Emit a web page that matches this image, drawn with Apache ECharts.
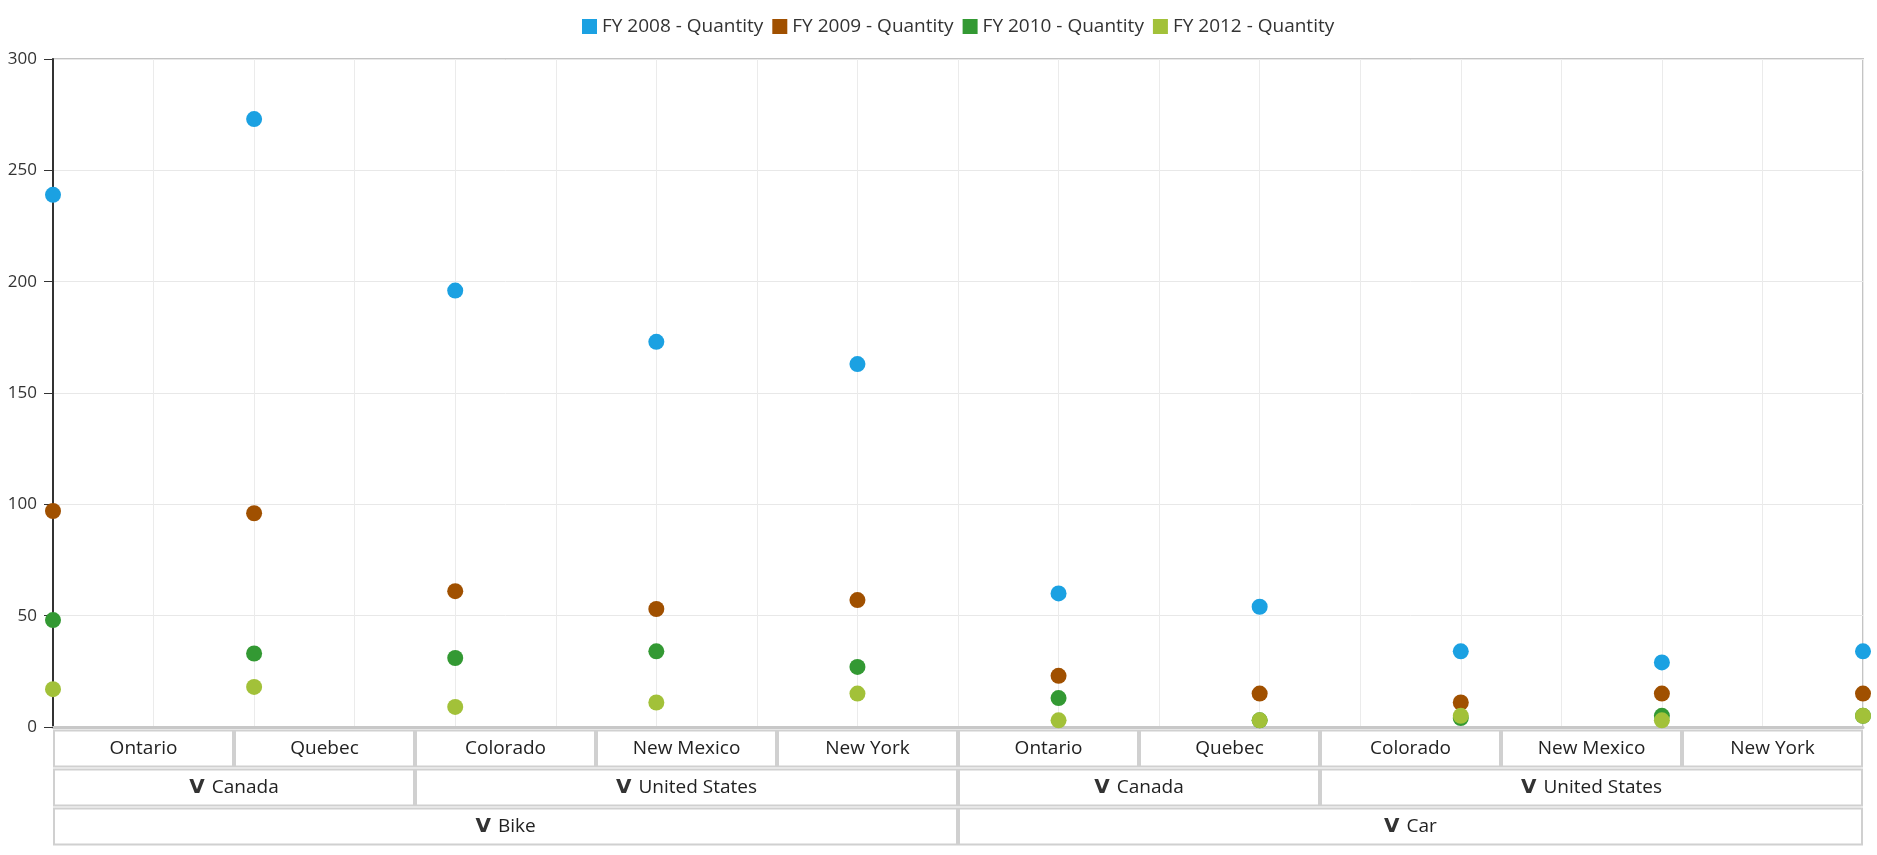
<!DOCTYPE html>
<html lang="en">
<head>
    <meta charset="UTF-8">
    <title>Quantity by Region</title>
    <script type="text/javascript" src="https://cdn.jsdelivr.net/npm/echarts@6/dist/echarts.min.js"></script>
    <style>
        html, body {
            margin: 0;
            padding: 0;
            background: #fff;
        }
        #main {
            width: 1877px;
            height: 855px;
        }
    </style>
</head>
<body>
<div id="main"></div>
<script>
    // x categories (state level), then the group rows under them
    var states = ['Ontario', 'Quebec', 'Colorado', 'New Mexico', 'New York',
        'Ontario', 'Quebec', 'Colorado', 'New Mexico', 'New York'];
    var countries = ['Canada', 'United States', 'Canada', 'United States'];
    var countrySpans = [2, 3, 2, 3];
    var products = ['Bike', 'Car'];
    var productSpans = [5, 5];

    var seriesNames = ['FY 2008 - Quantity', 'FY 2009 - Quantity', 'FY 2010 - Quantity', 'FY 2012 - Quantity'];
    var fy2008 = [239, 273, 196, 173, 163, 60, 54, 34, 29, 34];
    var fy2009 = [97, 96, 61, 53, 57, 23, 15, 11, 15, 15];
    var fy2010 = [48, 33, 31, 34, 27, 13, 3, 4, 5, 5];
    var fy2012 = [17, 18, 9, 11, 15, 3, 3, 5, 3, 5];

    var yTicks = [0, 50, 100, 150, 200, 250, 300];

    var colors = ['#1ba1e2', '#a05000', '#339933', '#a2c139'];
    var font = '"Open Sans", "Noto Sans", sans-serif';

    var chartDom = document.getElementById('main');
    var myChart = echarts.init(chartDom);

    // header cells: [start, row, span], with the text kept alongside
    var cells = [];
    var cellText = [];
    function addRow(names, spans, row, chevron) {
        var start = 0;
        names.forEach(function (n, i) {
            cells.push([start, row, spans[i]]);
            cellText.push(chevron ? '{v|V}{t|' + n + '}' : '{t|' + n + '}');
            start += spans[i];
        });
    }
    addRow(states, states.map(function () { return 1; }), 0, false);
    addRow(countries, countrySpans, 1, true);
    addRow(products, productSpans, 2, true);

    var halfSteps = [];
    for (var h = 0; h < states.length * 2 - 1; h++) halfSteps.push('');

    function renderCell(params, api) {
        var start = api.value(0), row = api.value(1), span = api.value(2);
        var p0 = api.coord([start, row]);
        var p1 = api.coord([start + span, row]);
        var bandH = api.size([0, 1])[1];
        return {
            type: 'group',
            children: [{
                type: 'rect',
                shape: {x: p0[0] + 1, y: p0[1] - bandH / 2 + 1.5, width: p1[0] - p0[0] - 2, height: bandH - 3},
                style: {fill: '#fff', stroke: '#d0d0d0', lineWidth: 2}
            }, {
                type: 'text',
                style: {
                    text: cellText[params.dataIndex],
                    x: (p0[0] + p1[0]) / 2,
                    y: p0[1],
                    align: 'center',
                    verticalAlign: 'middle',
                    fill: '#222',
                    rich: {
                        v: {fontFamily: 'DejaVu Sans', fontWeight: 'bold', fontSize: 20, fill: '#333', padding: [0, 7, 0, 0]},
                        t: {fontFamily: font, fontSize: 19, fill: '#222'}
                    }
                }
            }]
        };
    }

    var allValues = [fy2008, fy2009, fy2010, fy2012];

    var series = allValues.map(function (vals, i) {
        return {
            name: seriesNames[i],
            type: 'scatter',
            xAxisIndex: 0,
            yAxisIndex: 0,
            symbol: 'circle',
            symbolSize: 16,
            clip: true,
            itemStyle: {opacity: 1},
            data: vals
        };
    });
    series.push({
        type: 'custom',
        xAxisIndex: 2,
        yAxisIndex: 1,
        clip: false,
        silent: true,
        renderItem: renderCell,
        encode: {x: 0, y: 1},
        data: cells
    });

    var option = {
        backgroundColor: '#fff',
        color: colors,
        legend: {
            top: 12,
            left: 577,
            icon: 'rect',
            itemWidth: 15,
            itemHeight: 15,
            itemGap: 9,
            textStyle: {fontFamily: font, fontSize: 19, color: '#333'},
            data: seriesNames
        },
        grid: [{
            left: 53, right: 14, top: 59, bottom: 128,
            show: true,
            borderColor: '#c4c4c4',
            borderWidth: 2,
            outerBoundsMode: 'none'
        }, {
            left: 53, right: 14, top: 729, height: 117,
            outerBoundsMode: 'none'
        }],
        xAxis: [
            {   // data axis
                type: 'category',
                gridIndex: 0,
                boundaryGap: false,
                data: states,
                position: 'bottom',
                axisLine: {lineStyle: {color: '#c8c8c8', width: 3}},
                axisTick: {show: false},
                axisLabel: {show: false},
                splitLine: {show: true, interval: 0, lineStyle: {color: '#ebebeb', width: 1}}
            },
            {   // half-step grid lines
                type: 'category',
                gridIndex: 0,
                boundaryGap: false,
                data: halfSteps,
                position: 'bottom',
                axisLine: {show: false},
                axisTick: {show: false},
                axisLabel: {show: false},
                splitLine: {show: true, interval: 0, lineStyle: {color: '#ebebeb', width: 1}}
            },
            {   // header cells
                type: 'value',
                gridIndex: 1,
                min: 0,
                max: states.length,
                show: false
            }
        ],
        yAxis: [{
            type: 'value',
            gridIndex: 0,
            min: yTicks[0],
            max: yTicks[yTicks.length - 1],
            interval: yTicks[1] - yTicks[0],
            axisLine: {show: true, lineStyle: {color: '#333', width: 2}},
            axisTick: {show: true, length: 9, lineStyle: {color: '#333'}},
            axisLabel: {margin: 16, color: '#333', fontFamily: font, fontSize: 17},
            splitLine: {lineStyle: {color: '#e8e8e8', width: 1}}
        }, {
            type: 'category',
            gridIndex: 1,
            inverse: true,
            data: [0, 1, 2],
            show: false
        }],
        series: series
    };
    myChart.setOption(option);
</script>
</body>
</html>
